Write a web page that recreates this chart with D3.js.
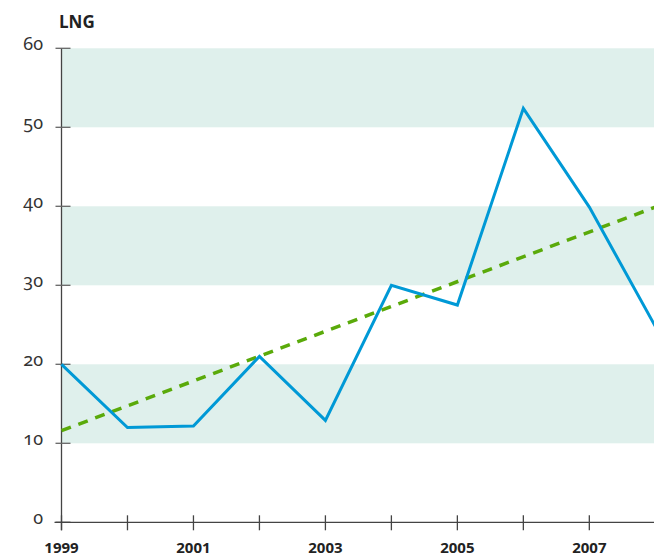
<!DOCTYPE html>
<html><head><meta charset="utf-8">
<script src="https://cdn.jsdelivr.net/npm/d3@7"></script>
<style>
body{margin:0;background:#fff;}
svg{display:block;}
.ylab{font-family:"Noto Sans",Lato,sans-serif;font-size:18px;fill:#333;font-feature-settings:"onum" 1;font-variant-numeric:oldstyle-nums;}
.xlab{font-family:"Open Sans",Lato,sans-serif;font-size:15px;font-weight:bold;fill:#222;}
.title{font-family:"Open Sans",sans-serif;font-size:17px;font-weight:bold;fill:#222;}
</style></head><body>
<svg id="c" width="654" height="556"></svg>
<script>
const years=[1999,2000,2001,2002,2003,2004,2005,2006,2007,2008];
const values=[20.0,12.0,12.2,21.0,12.9,30.0,27.5,52.4,39.9,24.8];
const trend=[11.6,39.9];
const yTicks=[0,10,20,30,40,50,60];
const xLabelYears=[1999,2001,2003,2005,2007];
const bands=[[10,20],[30,40],[50,60]];

const svg=d3.select("#c");
const x=d3.scaleLinear().domain([1999,2008]).range([61.5,655.3]);
const y=d3.scaleLinear().domain([0,60]).range([522.3,48.3]);

svg.selectAll("rect.band").data(bands).enter().append("rect")
 .attr("x",x(1999)).attr("width",654-x(1999))
 .attr("y",d=>y(d[1])).attr("height",d=>y(d[0])-y(d[1]))
 .attr("fill","#dff0ec");

// axes
svg.append("line").attr("x1",x(1999)).attr("x2",x(1999)).attr("y1",y(60)).attr("y2",y(0)+8).attr("stroke","#444").attr("stroke-width",1.3);
svg.append("line").attr("x1",x(1999)-7).attr("x2",654).attr("y1",y(0)).attr("y2",y(0)).attr("stroke","#444").attr("stroke-width",1.3);
svg.selectAll("line.yt").data(yTicks).enter().append("line")
 .attr("x1",x(1999)-6).attr("x2",x(1999)+9).attr("y1",d=>y(d)).attr("y2",d=>y(d))
 .attr("stroke",d=>d===0?"#444":"#666").attr("stroke-width",1.3);
svg.selectAll("line.xt").data(years.slice(0,9)).enter().append("line")
 .attr("x1",d=>x(d)).attr("x2",d=>x(d)).attr("y1",y(0)-7).attr("y2",y(0)+8)
 .attr("stroke","#444").attr("stroke-width",1.3);

svg.selectAll("text.ylab").data(yTicks).enter().append("text").attr("class","ylab")
 .attr("x",43).attr("y",d=>y(d)+2).attr("text-anchor","end").text(d=>d);
svg.selectAll("text.xlab").data(xLabelYears).enter().append("text").attr("class","xlab")
 .attr("x",d=>x(d)).attr("y",553).attr("text-anchor","middle").text(d=>d);
svg.append("text").attr("class","title").attr("x",59).attr("y",28).text("LNG");

// trend
svg.append("line").attr("x1",x(1999)).attr("y1",y(trend[0])).attr("x2",x(2008)).attr("y2",y(trend[1]))
 .attr("stroke","#5aaa0a").attr("stroke-width",3.5).attr("stroke-dasharray","10,8");

// data line
const line=d3.line().x((d,i)=>x(years[i])).y(d=>y(d));
svg.append("path").datum(values).attr("d",line).attr("fill","none")
 .attr("stroke","#0099d6").attr("stroke-width",3).attr("stroke-linejoin","miter");
</script></body></html>
